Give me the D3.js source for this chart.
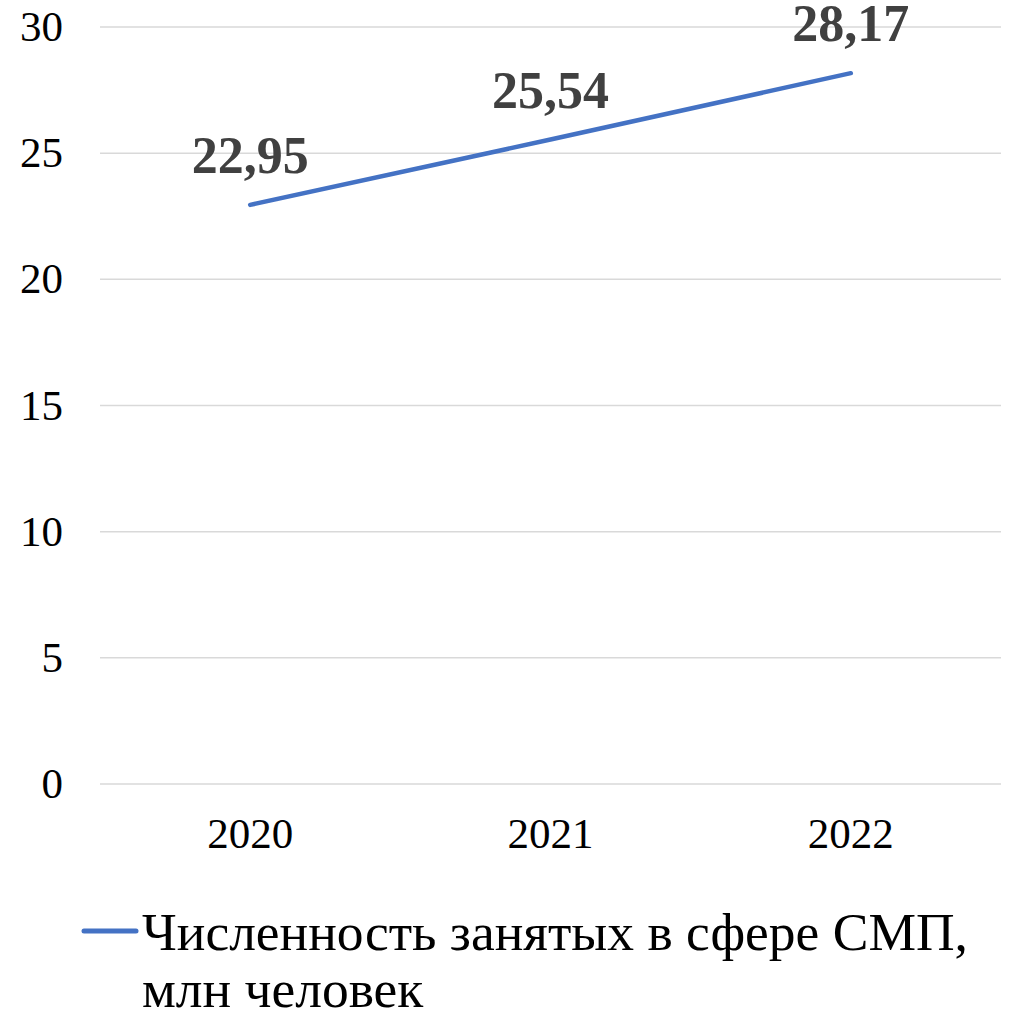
<!DOCTYPE html>
<html>
<head>
<meta charset="utf-8">
<script src="https://cdn.jsdelivr.net/npm/d3@7"></script>
<style>
  body { margin: 0; background: #fff; }
  svg { display: block; font-family: "Liberation Serif", "Times New Roman", serif; }
</style>
</head>
<body>
<svg width="1010" height="1016"></svg>
<script>
// data
var years = ["2020", "2021", "2022"];
var employed = [22.95, 25.54, 28.17];
var yTicks = [0, 5, 10, 15, 20, 25, 30];
var seriesName = ["Численность занятых в сфере СМП,", "млн человек"];

var svg = d3.select("svg");

var x = d3.scalePoint()
    .domain(years)
    .range([100, 1001])
    .padding(0.5);

var y = d3.scaleLinear()
    .domain([0, 30])
    .range([784, 27]);

// gridlines
svg.append("g")
  .selectAll("line")
    .data(yTicks)
  .enter().append("line")
    .attr("x1", 100)
    .attr("x2", 1001)
    .attr("y1", function(d) { return y(d); })
    .attr("y2", function(d) { return y(d); })
    .style("stroke", "#d9d9d9")
    .style("stroke-width", 1.5);

// y tick labels
svg.append("g")
  .selectAll("text")
    .data(yTicks)
  .enter().append("text")
    .attr("x", 63)
    .attr("y", function(d) { return y(d) + 14; })
    .attr("text-anchor", "end")
    .style("font-size", "43px")
    .text(function(d) { return d; });

// x tick labels
svg.append("g")
  .selectAll("text")
    .data(years)
  .enter().append("text")
    .attr("x", function(d) { return x(d); })
    .attr("y", 848)
    .attr("text-anchor", "middle")
    .style("font-size", "43px")
    .text(function(d) { return d; });

// line
var line = d3.line()
    .x(function(d, i) { return x(years[i]); })
    .y(function(d) { return y(d); });

svg.append("path")
    .datum(employed)
    .attr("d", line)
    .style("fill", "none")
    .style("stroke", "#4472c4")
    .style("stroke-width", 4.5)
    .style("stroke-linecap", "round");

// data labels
svg.append("g")
  .selectAll("text")
    .data(employed)
  .enter().append("text")
    .attr("x", function(d, i) { return x(years[i]); })
    .attr("y", function(d) { return y(d) - 32; })
    .attr("text-anchor", "middle")
    .style("font-size", "52px")
    .style("font-weight", "bold")
    .style("fill", "#404040")
    .text(function(d) { return String(d).replace(".", ","); });

// legend
var legend = svg.append("g");
legend.append("line")
    .attr("x1", 84).attr("x2", 136)
    .attr("y1", 931).attr("y2", 931)
    .style("stroke", "#4472c4")
    .style("stroke-width", 5)
    .style("stroke-linecap", "round");

legend.append("text")
    .style("font-size", "53.5px")
  .selectAll("tspan")
    .data(seriesName)
  .enter().append("tspan")
    .attr("x", 142)
    .attr("y", function(d, i) { return 950 + i * 57; })
    .text(function(d) { return d; });
</script>
</body>
</html>
